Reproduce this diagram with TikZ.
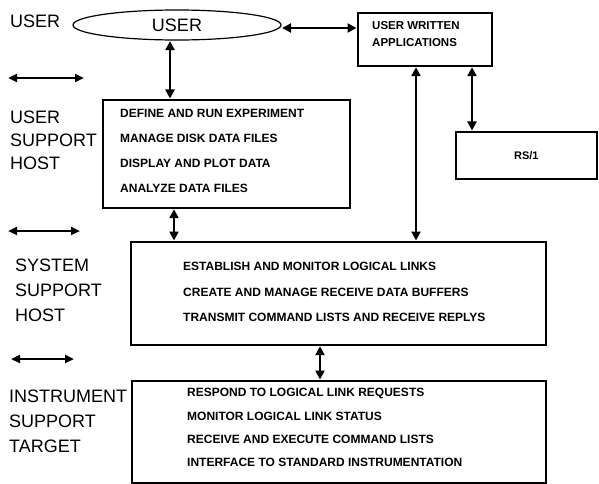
\documentclass[tikz,border=0pt]{standalone}
\usepackage{fontspec}
\setmainfont{Liberation Sans}
\usetikzlibrary{arrows.meta,shapes.geometric}
\begin{document}
\begin{tikzpicture}[x=1pt,y=-1pt,
  layer/.style={font=\fontsize{18}{18}\selectfont, anchor=west, inner sep=0pt},
  item/.style={font=\bfseries\fontsize{12}{12}\selectfont, anchor=west, inner sep=0pt},
  box/.style={draw, line width=1.7pt, inner sep=0pt},
  link/.style={line width=2.5pt, {Triangle[length=9pt,width=9pt]}-{Triangle[length=9pt,width=9pt]}, shorten <=0.5pt, shorten >=0.5pt},
  lvl/.style={line width=2.5pt, {Triangle[length=9pt,width=8pt]}-{Triangle[length=9pt,width=8pt]}}
]
\useasboundingbox (0,0) rectangle (599,484);

% layer names on the left
\node[layer] (lUser) at (10,21) {USER};
\node[layer] (lUsh1) at (10,117) {USER};
\node[layer] (lUsh2) at (10,140) {SUPPORT};
\node[layer] (lUsh3) at (10,163) {HOST};
\node[layer] (lSsh1) at (15,265) {SYSTEM};
\node[layer] (lSsh2) at (15,290) {SUPPORT};
\node[layer] (lSsh3) at (15,315) {HOST};
\node[layer] (lIst1) at (9,396) {INSTRUMENT};
\node[layer] (lIst2) at (9,421) {SUPPORT};
\node[layer] (lIst3) at (9,446) {TARGET};

% separators between layers
\coordinate (s1a) at (8,78);   \coordinate (s1b) at (84,78);
\coordinate (s2a) at (8,231);  \coordinate (s2b) at (80,231);
\coordinate (s3a) at (11,359); \coordinate (s3b) at (74,359);
\draw[lvl] (s1a) -- (s1b);
\draw[lvl] (s2a) -- (s2b);
\draw[lvl] (s3a) -- (s3b);

% user
\node[draw, ellipse, line width=1.2pt, minimum width=208pt, minimum height=30pt,
      font=\fontsize{18}{18}\selectfont] (user) at (177,25) {USER};

% user written applications
\node[box, minimum width=134pt, minimum height=53pt, anchor=north west] (uwa) at (357,12) {};
\node[item, align=left, font=\bfseries\fontsize{11.5}{17}\selectfont] (uwaT) at (372,34) {USER WRITTEN\\APPLICATIONS};

% RS/1
\node[box, minimum width=141pt, minimum height=47pt, anchor=north west] (rs) at (455,131) {};
\node[font=\bfseries\fontsize{11}{11}\selectfont, inner sep=0pt] (rsT) at (rs.center) {RS/1};

% user support host
\node[box, minimum width=247pt, minimum height=108pt, anchor=north west] (ush) at (102,99) {};
\node[item] (u1) at (120,113) {DEFINE AND RUN EXPERIMENT};
\node[item] (u2) at (120,138) {MANAGE DISK DATA FILES};
\node[item] (u3) at (120,163) {DISPLAY AND PLOT DATA};
\node[item] (u4) at (120,188) {ANALYZE DATA FILES};

% system support host
\node[box, minimum width=415pt, minimum height=103pt, anchor=north west] (ssh) at (130,241) {};
\node[item] (h1) at (183,266) {ESTABLISH AND MONITOR LOGICAL LINKS};
\node[item] (h2) at (183,292) {CREATE AND MANAGE RECEIVE DATA BUFFERS};
\node[item] (h3) at (183,317) {TRANSMIT COMMAND LISTS AND RECEIVE REPLYS};

% instrument support target
\node[box, minimum width=414pt, minimum height=102pt, anchor=north west] (ist) at (131,380) {};
\node[item] (t1) at (187,393) {RESPOND TO LOGICAL LINK REQUESTS};
\node[item] (t2) at (187,416) {MONITOR LOGICAL LINK STATUS};
\node[item] (t3) at (187,439) {RECEIVE AND EXECUTE COMMAND LISTS};
\node[item] (t4) at (187,462) {INTERFACE TO STANDARD INSTRUMENTATION};

% connections
\draw[link] (user.east |- 0,28) -- (uwa.west |- 0,28);
\draw[link] (user.south -| 170,0) -- (ush.north -| 170,0);
\draw[link] (uwa.south -| 416,0) -- (ssh.north -| 416,0);
\draw[link] (uwa.south -| 472,0) -- (rs.north -| 472,0);
\draw[link] (ush.south -| 174,0) -- (ssh.north -| 174,0);
\draw[link] (ssh.south -| 320,0) -- (ist.north -| 320,0);
\end{tikzpicture}
\end{document}
